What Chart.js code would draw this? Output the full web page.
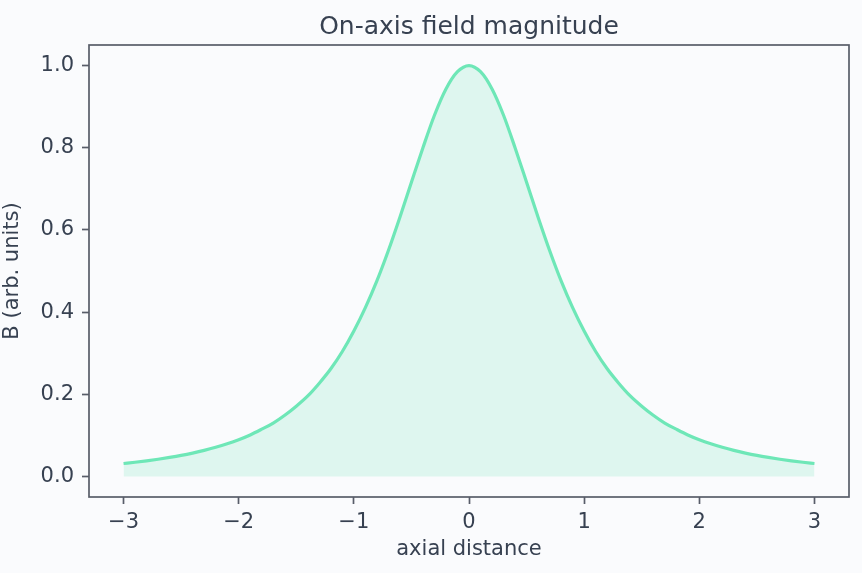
<!DOCTYPE html>
<html>
<head>
<meta charset="utf-8">
<script src="https://cdn.jsdelivr.net/npm/chart.js@4/dist/chart.umd.min.js"></script>
<style>
  html, body { margin: 0; padding: 0; background: #fafbfd; }
  #wrap { width: 862px; height: 573px; }
</style>
</head>
<body>
<div id="wrap"><canvas id="fieldChart" width="862" height="573"></canvas></div>
<script>
// Data
const zValues = [
  -3.0, -2.9, -2.8, -2.7, -2.6, -2.5, -2.4, -2.3, -2.2, -2.1,
  -2.0, -1.9, -1.8, -1.7, -1.6, -1.5, -1.4, -1.3, -1.2, -1.1,
  -1.0, -0.9, -0.8, -0.7, -0.6, -0.5, -0.4, -0.3, -0.2, -0.1,
  0.0,
  0.1, 0.2, 0.3, 0.4, 0.5, 0.6, 0.7, 0.8, 0.9, 1.0,
  1.1, 1.2, 1.3, 1.4, 1.5, 1.6, 1.7, 1.8, 1.9, 2.0,
  2.1, 2.2, 2.3, 2.4, 2.5, 2.6, 2.7, 2.8, 2.9, 3.0
];
const bValues = [
  0.0316, 0.0346, 0.0380, 0.0419, 0.0463, 0.0512, 0.0569, 0.0634, 0.0709, 0.0795,
  0.0894, 0.101, 0.115, 0.130, 0.149, 0.171, 0.196, 0.227, 0.262, 0.304,
  0.354, 0.411, 0.476, 0.550, 0.631, 0.716, 0.800, 0.879, 0.943, 0.985,
  1.000,
  0.985, 0.943, 0.879, 0.800, 0.716, 0.631, 0.550, 0.476, 0.411, 0.354,
  0.304, 0.262, 0.227, 0.196, 0.171, 0.149, 0.130, 0.115, 0.101, 0.0894,
  0.0795, 0.0709, 0.0634, 0.0569, 0.0512, 0.0463, 0.0419, 0.0380, 0.0346, 0.0316
];
const xTicks = [-3, -2, -1, 0, 1, 2, 3];
const yTicks = [0.0, 0.2, 0.4, 0.6, 0.8, 1.0];

const colors = {
  line: 'rgb(110, 231, 183)',
  fill: 'rgba(110, 231, 183, 0.2)',
  text: '#374151',
  spine: '#585d69',
  bg: '#fafbfd'
};

// background + full frame around the plot area
const framePlugin = {
  id: 'frame',
  beforeDraw(chart) {
    const c = chart.ctx;
    c.save();
    c.fillStyle = colors.bg;
    c.fillRect(0, 0, chart.width, chart.height);
    c.restore();
  },
  afterDraw(chart) {
    const a = chart.chartArea;
    const c = chart.ctx;
    c.save();
    c.strokeStyle = colors.spine;
    c.lineWidth = 1.7;
    c.strokeRect(a.left, a.top, a.right - a.left, a.bottom - a.top);
    c.restore();
  }
};

const fmtMinus = v => String(v).replace('-', '\u2212');

new Chart(document.getElementById('fieldChart'), {
  type: 'line',
  data: {
    datasets: [{
      data: zValues.map((z, i) => ({ x: z, y: bValues[i] })),
      borderColor: colors.line,
      backgroundColor: colors.fill,
      borderWidth: 3.2,
      pointRadius: 0,
      cubicInterpolationMode: 'monotone',
      fill: 'origin'
    }]
  },
  options: {
    responsive: false,
    animation: false,
    layout: { padding: { left: 0, right: 13, top: 0, bottom: 0 } },
    plugins: {
      legend: { display: false },
      tooltip: { enabled: false },
      title: {
        display: true,
        fullSize: false,
        text: 'On-axis field magnitude',
        color: colors.text,
        font: { family: 'DejaVu Sans', size: 25, weight: 'normal' },
        padding: { top: 12, bottom: 3 }
      }
    },
    scales: {
      x: {
        type: 'linear',
        min: -3.3,
        max: 3.3,
        afterBuildTicks: axis => { axis.ticks = xTicks.map(v => ({ value: v })); },
        afterFit: axis => { axis.height = 76; },
        border: { display: false },
        grid: {
          drawOnChartArea: false,
          drawTicks: true,
          tickLength: 7,
          tickWidth: 1.7,
          tickColor: colors.spine
        },
        ticks: {
          color: colors.text,
          padding: 6,
          maxRotation: 0,
          font: { family: 'DejaVu Sans', size: 21 },
          callback: v => fmtMinus(v)
        },
        title: {
          display: true,
          text: 'axial distance',
          color: colors.text,
          font: { family: 'DejaVu Sans', size: 21 },
          padding: { top: 0, bottom: 11 }
        }
      },
      y: {
        type: 'linear',
        min: -0.05,
        max: 1.05,
        afterBuildTicks: axis => { axis.ticks = yTicks.map(v => ({ value: v })); },
        afterFit: axis => { axis.width = 89; },
        border: { display: false },
        grid: {
          drawOnChartArea: false,
          drawTicks: true,
          tickLength: 7,
          tickWidth: 1.7,
          tickColor: colors.spine
        },
        ticks: {
          color: colors.text,
          padding: 8,
          font: { family: 'DejaVu Sans', size: 21 },
          callback: v => v.toFixed(1)
        },
        title: {
          display: true,
          text: 'B (arb. units)',
          color: colors.text,
          font: { family: 'DejaVu Sans', size: 21 },
          padding: { top: 0, bottom: 0 }
        }
      }
    }
  },
  plugins: [framePlugin]
});
</script>
</body>
</html>
